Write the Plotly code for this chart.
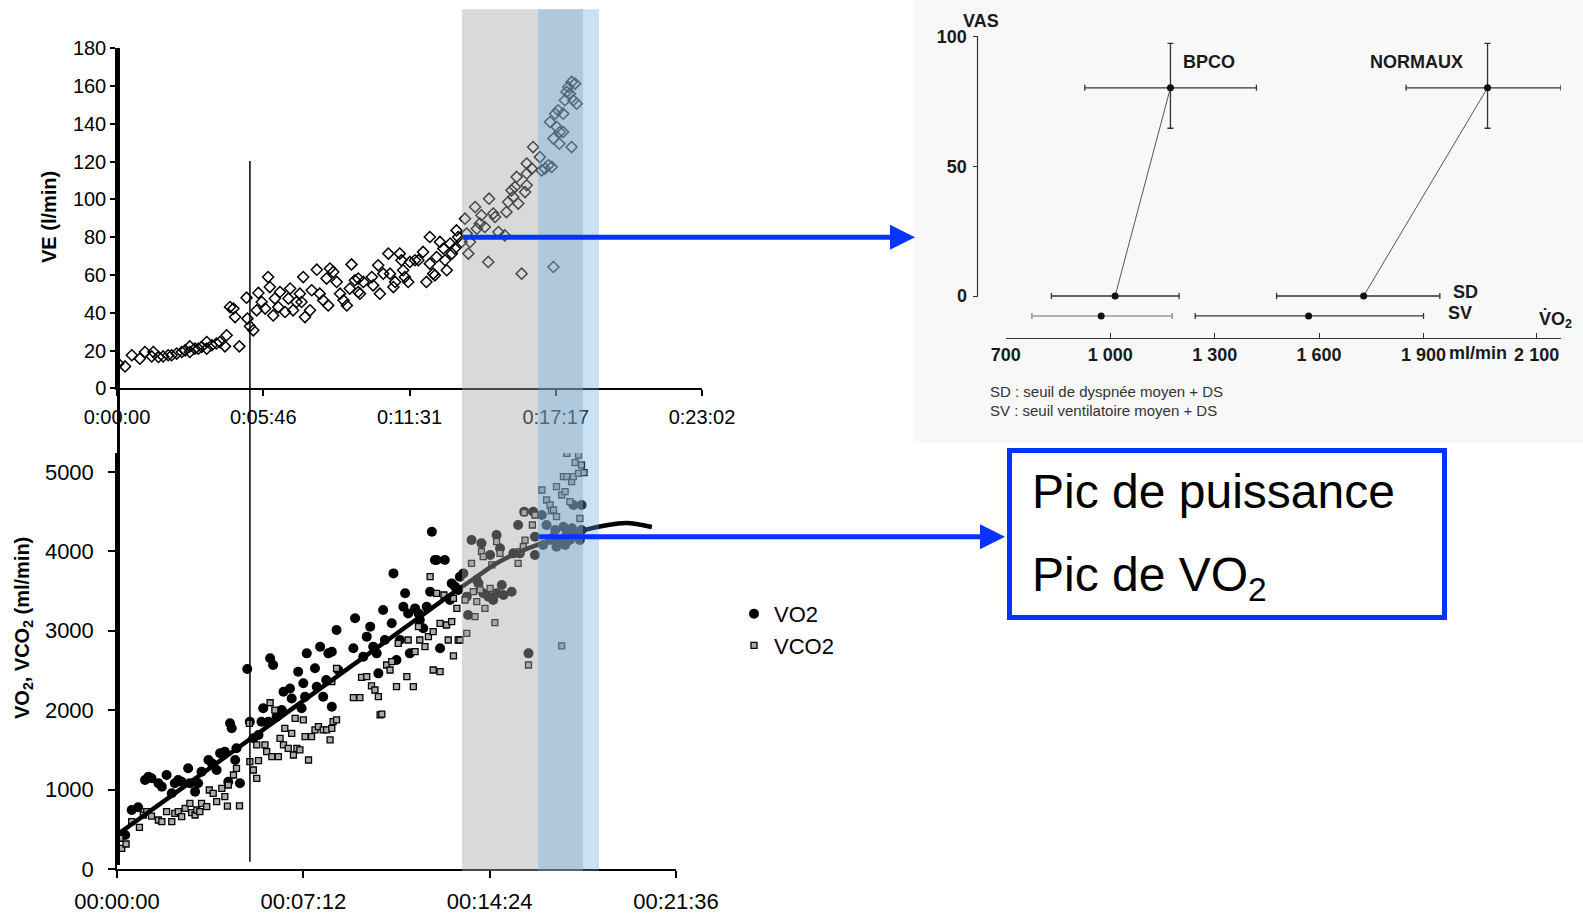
import plotly.graph_objects as go

W, H = 1583, 914


def px(x):
    return x / W


def py(y):
    return 1 - y / H


# ---------------- Top chart : VE (l/min) vs time (s) ----------------
ve_time_s = [3, 19, 35, 54, 66, 82, 86, 98, 109, 121, 129, 141, 153, 161, 172, 172, 184, 192, 200, 212,
             212, 224, 235, 243, 255, 259, 267, 275, 279, 289, 306, 308, 314, 322, 330, 334, 342, 350, 357, 361,
             369, 373, 381, 385, 397, 405, 409, 416, 424, 432, 436, 440, 444, 456, 460, 472, 479, 487, 495, 499,
             503, 511, 519, 527, 535, 543, 550, 554, 562, 570, 570, 574, 582, 602, 605, 617, 621, 629, 641, 645,
             653, 657, 668, 672, 676, 680, 688, 692, 704, 712, 723, 731, 739, 739, 747, 751, 755, 763, 771, 775,
             779, 787, 791, 798, 802, 806, 814, 822, 826, 830, 834, 846, 850, 857, 861, 869, 877, 879, 889, 893,
             901, 916, 920, 924, 932, 936, 940, 944, 948, 956, 964, 968, 968, 968, 980, 983, 999, 1003, 1011, 1019,
             1023, 1027, 1031, 1031, 1035, 1039, 1042, 1045, 1046, 1054, 1054, 1058, 1062, 1066, 1070, 1074, 1078,
             1082, 1086, 1074]
ve_lmin = [13.1, 11.6, 17.5, 15.7, 19.2, 16.9, 19.2, 16.6, 16.9, 17.5, 17.5, 18.4, 19.2, 20.1, 22.2, 19.2, 21.0,
           21.0, 21.9, 24.5, 21.0, 22.8, 23.7, 24.5, 22.2, 28.1, 43.0, 42.2, 37.7, 22.2, 48.0, 36.9, 32.8, 30.7,
           41.3, 50.5, 45.7, 42.2, 58.9, 53.6, 38.6, 47.5, 43.0, 51.0, 40.4, 47.5, 52.8, 41.3, 45.7, 50.1, 45.7,
           58.9, 37.7, 41.3, 51.9, 62.8, 50.1, 46.6, 58.1, 43.9, 63.4, 61.6, 56.3, 50.1, 46.6, 43.9, 52.8, 65.6,
           57.2, 51.0, 58.1, 50.1, 56.3, 58.9, 54.5, 65.1, 50.1, 60.7, 71.3, 60.7, 53.6, 56.3, 71.3, 67.8, 62.5,
           58.9, 56.3, 66.9, 67.8, 67.8, 72.2, 56.3, 66.0, 80.1, 60.7, 59.8, 69.5, 77.5, 74.0, 67.8, 62.5, 76.6,
           71.3, 74.0, 83.6, 80.1, 77.5, 89.8, 81.9, 71.3, 77.5, 96.0, 84.5, 87.2, 91.6, 85.4, 66.9, 100.4, 92.5,
           90.7, 82.7, 81.0, 93.3, 98.6, 104.8, 101.3, 106.6, 111.9, 97.8, 60.7, 103.9, 107.5, 113.7, 119.0, 116.3,
           127.7, 122.4, 115.4, 116.3, 118.1, 141.0, 117.2, 64.2, 132.2, 145.4, 138.3, 147.2, 129.5, 135.7, 135.7,
           145.4, 152.5, 156.9, 159.5, 156.0, 127.7, 152.5, 161.3, 150.7, 162.2]
ve_tick_s = [0, 345.5, 691, 1036.5, 1382]
ve_tick_labels = ["0:00:00", "0:05:46", "0:11:31", "0:17:17", "0:23:02"]

# ---------------- Bottom chart : VO2 / VCO2 (ml/min) ----------------
vo2_time_s = [0, 19, 34, 49, 65, 73, 80, 96, 104, 115, 127, 134, 142, 150, 165, 169, 181, 188, 196, 212,
              220, 231, 239, 250, 258, 262, 266, 274, 277, 285, 302, 308, 316, 328, 335, 339, 351, 355, 362, 370,
              382, 386, 401, 405, 420, 428, 432, 436, 440, 459, 463, 471, 478, 490, 498, 498, 509, 485, 513, 548,
              552, 571, 579, 587, 594, 602, 606, 617, 621, 637, 641, 648, 656, 668, 664, 675, 679, 691, 699, 702,
              710, 718, 726, 730, 737, 741, 749, 760, 772, 776, 784, 791, 795, 803, 811, 814, 822, 834, 838, 845,
              849, 861, 865, 872, 880, 880, 888, 892, 896, 915, 919, 930, 934, 944, 954, 965, 969, 969, 985, 996,
              1004, 1012, 1019, 1027, 1035, 1043, 1050, 1058, 1066, 1077, 1077, 1073, 988, 1016, 1039, 1055]
vo2_ml = [450, 428, 743, 777, 1121, 1162, 1142, 1079, 1036, 1184, 953, 1079, 1121, 1099, 1268, 1079, 974, 1079,
          1225, 1373, 1331, 1247, 1457, 1477, 1099, 1835, 1772, 1373, 1520, 1079, 2519, 1855, 1646, 1688, 1855,
          2024, 1855, 2654, 2569, 1918, 2002, 2233, 2273, 2147, 2485, 2024, 2339, 2170, 2716, 2528, 2296, 2800,
          2170, 2716, 2737, 2044, 3010, 2380, 2506, 2779, 3157, 2674, 2926, 3052, 2800, 2716, 2464, 3262, 2884,
          3094, 3723, 2632, 2884, 3472, 3303, 3219, 2716, 3282, 3219, 3136, 3031, 3303, 3492, 4248, 3892, 3892,
          2779, 3892, 3388, 3597, 3555, 3514, 3681, 3723, 3430, 3199, 4143, 3640, 3597, 4101, 3472, 3430, 3954,
          3388, 4206, 3472, 4039, 3577, 3451, 3492, 3975, 4332, 3975, 4500, 2716, 4500, 4185, 3954, 4458, 4332,
          4143, 4185, 4059, 4143, 4311, 4227, 4143, 4584, 4227, 4269, 4584, 4143, 4080, 4269, 4080, 4290]

vco2_time_s = [11, 21, 7, 34, 52, 61, 69, 80, 96, 104, 115, 127, 134, 142, 150, 158, 169, 173, 181, 185,
               192, 196, 208, 214, 223, 231, 243, 250, 256, 258, 270, 277, 284, 307, 308, 316, 324, 328, 324, 343,
               347, 355, 359, 366, 374, 378, 386, 389, 397, 405, 409, 417, 424, 432, 436, 444, 451, 459, 467, 478,
               486, 494, 498, 501, 509, 498, 509, 413, 548, 563, 567, 579, 590, 598, 606, 610, 614, 625, 633, 637,
               648, 652, 672, 675, 687, 691, 699, 702, 714, 722, 726, 733, 733, 741, 749, 749, 758, 764, 768, 776,
               780, 780, 788, 791, 795, 807, 811, 822, 826, 830, 834, 842, 845, 849, 853, 865, 869, 876, 880, 888,
               930, 934, 942, 944, 946, 954, 963, 969, 985, 996, 1004, 1007, 1012, 1019, 1019, 1031, 1031, 1039,
               1035, 1043, 1050, 1054, 1058, 1062, 1070, 1073, 1077, 1083, 1043, 1070]
vco2_ml = [261, 315, 387, 596, 525, 680, 722, 667, 617, 596, 722, 596, 700, 722, 659, 764, 826, 709, 680, 743,
           722, 826, 785, 995, 953, 848, 1016, 911, 793, 1058, 1184, 1268, 796, 1835, 1351, 1247, 1142, 1364, 1562,
           1562, 1477, 2094, 1414, 2002, 1414, 1646, 1562, 1772, 1520, 1709, 1436, 1520, 1499, 1877, 1666, 1373,
           1666, 1751, 1793, 1751, 1751, 1625, 1772, 1855, 1877, 2359, 2527, 1898, 2157, 2157, 2414, 2422, 2305,
           2254, 2170, 1940, 1950, 2569, 2506, 2611, 2296, 2842, 2422, 2884, 2296, 2737, 3052, 2884, 2800, 2926,
           3681, 2989, 2506, 3472, 3094, 2485, 3451, 3073, 2884, 3115, 3409, 2683, 3282, 2884, 2884, 3388, 2968,
           3850, 3492, 3178, 3367, 3514, 3996, 3934, 3282, 3534, 3829, 3102, 4122, 3975, 3850, 3996, 4059, 4487,
           4143, 2569, 4332, 4458, 4773, 4647, 4584, 4512, 4521, 4815, 4437, 2811, 4710, 4752, 4941, 4941, 4626,
           4878, 4941, 5117, 4983, 4414, 5088, 4991, 5234, 5214]

trend_time_s = [5, 150, 308, 450, 600, 700, 780, 834, 880, 934, 973, 1030, 1080, 1135, 1182, 1240]
trend_ml = [450, 1016, 1634, 2190, 2776, 3167, 3480, 3681, 3850, 3996, 4080, 4180, 4265, 4330, 4357, 4307]

vo2_tick_s = [0, 432, 864, 1296]
vo2_tick_labels = ["00:00:00", "00:07:12", "00:14:24", "00:21:36"]

threshold_time_s = 314  # vertical marker line

# ---------------- Right chart : VAS vs VO2 ----------------
vas_groups = ["BPCO", "NORMAUX"]
peak_vo2 = [1173, 2084]
peak_vo2_plus = [247, 211]
peak_vo2_minus = [246, 234]
peak_vas = [80.3, 80.3]
peak_vas_plus = [17.1, 17.1]
peak_vas_minus = [15.6, 15.6]
sd_vo2 = [1014, 1728]
sd_vo2_plus = [184, 219]
sd_vo2_minus = [183, 250]
sd_vas = [0, 0]
sv_vo2 = [974, 1570]
sv_vo2_plus = [204, 330]
sv_vo2_minus = [199, 326]
sv_vas = [-7.7, -7.7]
vas_x_ticks = [700, 1000, 1300, 1600, 1900, 2225]
vas_x_labels = ["700", "1 000", "1 300", "1 600", "1 900", "2 100"]
vas_y_ticks = [0, 50, 100]

FONT = "Liberation Sans, Arial, Helvetica, sans-serif"
BLUE = "#0533ff"

fig = go.Figure()

# top chart
fig.add_trace(go.Scatter(
    x=ve_time_s, y=ve_lmin, mode="markers", xaxis="x", yaxis="y", showlegend=False,
    marker=dict(symbol="diamond-open", size=8.5, color="black", line=dict(width=1.5, color="black"))))

# bottom chart
fig.add_trace(go.Scatter(
    x=vo2_time_s, y=vo2_ml, mode="markers", xaxis="x2", yaxis="y2", name="VO2", legendgroup="a",
    marker=dict(symbol="circle", size=10, color="black", line=dict(width=0))))
fig.add_trace(go.Scatter(
    x=vco2_time_s, y=vco2_ml, mode="markers", xaxis="x2", yaxis="y2", name="VCO2", legendgroup="b",
    marker=dict(symbol="square", size=6, color="#ababab", line=dict(width=1.3, color="black"))))
fig.add_trace(go.Scatter(
    x=trend_time_s, y=trend_ml, mode="lines", xaxis="x2", yaxis="y2", showlegend=False,
    line=dict(color="black", width=4.5, shape="spline", smoothing=0.8)))

# VAS chart
for i in range(2):
    fig.add_trace(go.Scatter(
        x=[sd_vo2[i], peak_vo2[i]], y=[sd_vas[i], peak_vas[i]], mode="lines", xaxis="x3", yaxis="y3",
        showlegend=False, line=dict(color="#555555", width=1)))
ebar = dict(color="#333333", thickness=1.3, width=3, symmetric=False)
fig.add_trace(go.Scatter(
    x=peak_vo2, y=peak_vas, mode="markers", xaxis="x3", yaxis="y3", showlegend=False,
    marker=dict(size=7, color="#111111"),
    error_x=dict(type="data", array=peak_vo2_plus, arrayminus=peak_vo2_minus, **ebar),
    error_y=dict(type="data", array=peak_vas_plus, arrayminus=peak_vas_minus, **ebar)))
fig.add_trace(go.Scatter(
    x=sd_vo2, y=sd_vas, mode="markers", xaxis="x3", yaxis="y3", showlegend=False,
    marker=dict(size=7, color="#111111"),
    error_x=dict(type="data", array=sd_vo2_plus, arrayminus=sd_vo2_minus, **ebar)))
fig.add_trace(go.Scatter(
    x=sv_vo2[:1], y=sv_vas[:1], mode="markers", xaxis="x3", yaxis="y3", showlegend=False,
    marker=dict(size=7, color="#111111"),
    error_x=dict(type="data", array=sv_vo2_plus[:1], arrayminus=sv_vo2_minus[:1],
                 color="#9a9a9a", thickness=1.6, width=3, symmetric=False)))
fig.add_trace(go.Scatter(
    x=sv_vo2[1:], y=sv_vas[1:], mode="markers", xaxis="x3", yaxis="y3", showlegend=False,
    marker=dict(size=7, color="#111111"),
    error_x=dict(type="data", array=sv_vo2_plus[1:], arrayminus=sv_vo2_minus[1:], **ebar)))

axis_common = dict(showgrid=False, zeroline=False, showline=True, linecolor="black", linewidth=1.5,
                   ticks="outside", tickcolor="black", tickwidth=1.5, automargin=False)

fig.update_layout(
    template="none",
    width=W, height=H, margin=dict(l=0, r=0, t=0, b=0, pad=0), autosize=False,
    paper_bgcolor="white", plot_bgcolor="rgba(0,0,0,0)",
    font=dict(family=FONT, color="black"),
    hovermode=False,
    xaxis=dict(domain=[px(117), px(702)], range=[0, 1382], anchor="y", tickvals=ve_tick_s,
               ticktext=ve_tick_labels, ticklen=6, tickfont=dict(size=20), ticklabelstandoff=4, **axis_common),
    yaxis=dict(domain=[py(388.3), py(48.3)], range=[0, 180], anchor="x", tickvals=list(range(0, 181, 20)),
               ticklen=5, tickfont=dict(size=20), ticklabelstandoff=0, **axis_common),
    xaxis2=dict(domain=[px(117), px(676)], range=[0, 1296], anchor="y2", tickvals=vo2_tick_s,
                ticktext=vo2_tick_labels, ticklen=7, tickfont=dict(size=22), ticklabelstandoff=5,
                **axis_common),
    yaxis2=dict(domain=[py(869), py(453)], range=[0, 5239], anchor="x2", tickvals=[0, 1000, 2000, 3000, 4000, 5000],
                ticklen=7, tickfont=dict(size=22), ticklabelstandoff=10, **axis_common),
    xaxis3=dict(domain=[px(1005.8), px(1561)], range=[700, 2295], anchor="y3", tickvals=vas_x_ticks,
                ticktext=vas_x_labels, showgrid=False, zeroline=False, showline=True, linecolor="#333333",
                linewidth=1.2, ticks="inside", ticklen=5, tickcolor="#333333", tickwidth=1.2, automargin=False,
                tickfont=dict(size=18, weight="bold", color="#1a1a1a"), ticklabelstandoff=0),
    yaxis3=dict(domain=[py(338.3), py(36.7)], range=[-16.31, 100], anchor="free", position=px(977.5),
                tickvals=vas_y_ticks, showgrid=False, zeroline=False, showline=False, ticks="outside",
                ticklen=5, tickcolor="#333333", tickwidth=1.2, automargin=False,
                tickfont=dict(size=18, weight="bold", color="#1a1a1a"), ticklabelstandoff=2),
    legend=dict(x=px(734), y=py(593), xanchor="left", yanchor="top", bgcolor="rgba(0,0,0,0)",
                font=dict(size=22, family=FONT), traceorder="grouped", tracegroupgap=0),
)

shapes = [
    # light panel behind the VAS chart
    dict(type="rect", xref="paper", yref="paper", x0=px(913), x1=1, y0=py(443), y1=1,
         fillcolor="#f8f8f8", line=dict(width=0), layer="below"),
    # thick vertical bar at time zero
    dict(type="line", xref="x", yref="paper", x0=0, x1=0, y0=py(865), y1=py(48),
         line=dict(color="black", width=6), layer="above"),
    # threshold line
    dict(type="line", xref="x", yref="paper", x0=threshold_time_s, x1=threshold_time_s, y0=py(861.7), y1=py(161),
         line=dict(color="black", width=1.5), layer="above"),
    # shaded bands
    dict(type="rect", xref="paper", yref="paper", x0=px(462), x1=px(583), y0=py(871), y1=py(9.3),
         fillcolor="rgba(166,166,166,0.43)", line=dict(width=0), layer="above"),
    dict(type="rect", xref="paper", yref="paper", x0=px(538), x1=px(599), y0=py(871), y1=py(9.3),
         fillcolor="rgba(93,167,225,0.34)", line=dict(width=0), layer="above"),
    # VAS y axis line (0..100 only)
    dict(type="line", xref="paper", yref="y3", x0=px(977.5), x1=px(977.5), y0=0, y1=100,
         line=dict(color="#333333", width=1.2)),
    # text box
    dict(type="rect", xref="paper", yref="paper", x0=px(1009.5), x1=px(1444.5), y0=py(617.5), y1=py(450.5),
         fillcolor="white", line=dict(color=BLUE, width=5), layer="above"),
]
fig.update_layout(shapes=shapes)


def label(x, y, text, font, xanchor="center", yanchor="middle", **kw):
    return dict(xref="paper", yref="paper", x=px(x), y=py(y), text=text, showarrow=False,
                xanchor=xanchor, yanchor=yanchor, font=font, **kw)


ann = []
# arrows
ann.append(dict(xref="paper", yref="paper", x=px(915), y=py(237.3), ax=-(915 - 461.7), ay=0, text="",
                showarrow=True, arrowhead=2, arrowsize=1, arrowwidth=5, arrowcolor=BLUE, standoff=0))
ann.append(dict(xref="paper", yref="paper", x=px(1005), y=py(536.7), ax=-(1005 - 537.7), ay=0, text="",
                showarrow=True, arrowhead=2, arrowsize=1, arrowwidth=5, arrowcolor=BLUE, standoff=0))
# box text
big = dict(size=48, color="black", family=FONT)
ann.append(label(1030, 491, "Pic de puissance", big, xanchor="left"))
ann.append(label(1030, 578, "Pic de VO<sub>2</sub>", big, xanchor="left"))
# axis titles
ann.append(label(49, 217, "<b>VE (l/min)</b>", dict(size=20, color="black", family=FONT), textangle=-90))
ann.append(label(23, 628, "<b>VO<sub>2</sub>, VCO<sub>2</sub> (ml/min)</b>",
                 dict(size=20, color="black", family=FONT), textangle=-90))
# VAS chart labels
vas_font = dict(size=18, color="#1a1a1a", family=FONT, weight="bold")
ann.append(label(980.6, 20.7, "VAS", vas_font))
ann.append(label(1209, 61.7, vas_groups[0], vas_font))
ann.append(label(1416, 61.7, vas_groups[1], vas_font))
ann.append(label(1451, 292, "SD", vas_font, xanchor="left"))
ann.append(label(1446, 313, "SV", vas_font, xanchor="left"))
ann.append(label(1537, 319, "V\u0307O<sub>2</sub>", vas_font, xanchor="left"))
ann.append(label(1447, 353, "ml/min", vas_font, xanchor="left"))
note_font = dict(size=15, color="#333333", family=FONT)
ann.append(label(988, 391, "SD : seuil de dyspnée moyen + DS", note_font, xanchor="left"))
ann.append(label(988, 410, "SV : seuil ventilatoire moyen + DS", note_font, xanchor="left"))
fig.update_layout(annotations=ann)

fig.write_html("out.html", config={"displayModeBar": False},
               post_script="document.body.style.margin='0';document.body.style.overflow='hidden';")
